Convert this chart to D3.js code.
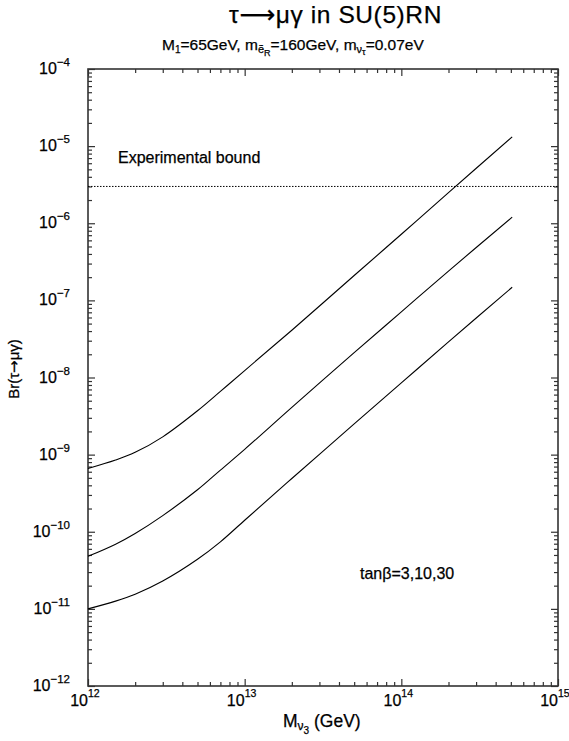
<!DOCTYPE html>
<html>
<head>
<meta charset="utf-8">
<script src="https://cdn.jsdelivr.net/npm/d3@7"></script>
<style>
  body { margin: 0; background: #fff; }
  svg { display: block; font-family: "Liberation Sans", Arial, Helvetica, sans-serif; }
  svg text { fill: #000; stroke: #000; stroke-width: 0.25px; }
</style>
</head>
<body>
<div id="chart"></div>
<script>
// heavy neutrino mass M_nu3 (GeV)
const massGeV = [1e12, 1.5e12, 2e12, 3e12, 5e12, 7e12, 1e13, 2e13, 5e13, 1e14, 2e14, 5.1e14];
// Br(tau -> mu gamma), one array per tan(beta)
const brTanBeta30 = [6.6e-10, 8.5e-10, 1.07e-9, 1.7e-9, 3.7e-9, 6.6e-9, 1.23e-8, 4.1e-8, 2.1e-7, 7.2e-7, 2.5e-6, 1.32e-5];
const brTanBeta10 = [4.8e-11, 6.9e-11, 9.5e-11, 1.62e-10, 3.5e-10, 6.3e-10, 1.17e-9, 4.1e-9, 2.1e-8, 7.1e-8, 2.4e-7, 1.2e-6];
const brTanBeta3 = [1.0e-11, 1.26e-11, 1.55e-11, 2.3e-11, 4.4e-11, 7.4e-11, 1.41e-10, 4.9e-10, 2.5e-9, 8.5e-9, 2.9e-8, 1.48e-7];
const experimentalBound = 3e-6;

const xTickExponents = [12, 13, 14, 15];
const yTickExponents = [-4, -5, -6, -7, -8, -9, -10, -11, -12];

const W = 569, H = 741;
const plot = { left: 88, right: 558, top: 69, bottom: 686 };

const svg = d3.select('#chart').append('svg')
  .attr('width', W)
  .attr('height', H);

const x = d3.scaleLog().domain([1e12, 1e15]).range([plot.left, plot.right]);
const y = d3.scaleLog().domain([1e-12, 1e-4]).range([plot.bottom, plot.top]);

// major and minor tick positions (2..9 in each decade)
const majorX = xTickExponents.map(e => Math.pow(10, e));
const minorX = [];
for (let e = 12; e < 15; e++) for (let k = 2; k <= 9; k++) minorX.push(k * Math.pow(10, e));
const majorY = yTickExponents.map(e => Math.pow(10, e));
const minorY = [];
for (let e = -12; e < -4; e++) for (let k = 2; k <= 9; k++) minorY.push(k * Math.pow(10, e));

const axisColor = '#333';

function drawTicks(axisFn, scale, values, size, transform) {
  const g = svg.append('g')
    .attr('transform', transform)
    .call(axisFn(scale).tickValues(values).tickSize(-size).tickSizeOuter(0).tickFormat(''));
  g.select('.domain').remove();
  g.selectAll('line').attr('stroke', axisColor).attr('stroke-width', 1.2);
}

// ticks on all four sides, pointing inwards
drawTicks(d3.axisBottom, x, majorX, 7, `translate(0,${plot.bottom})`);
drawTicks(d3.axisBottom, x, minorX, 4, `translate(0,${plot.bottom})`);
drawTicks(d3.axisTop, x, majorX, 7, `translate(0,${plot.top})`);
drawTicks(d3.axisTop, x, minorX, 4, `translate(0,${plot.top})`);
drawTicks(d3.axisLeft, y, majorY, 7, `translate(${plot.left},0)`);
drawTicks(d3.axisLeft, y, minorY, 4, `translate(${plot.left},0)`);
drawTicks(d3.axisRight, y, majorY, 7, `translate(${plot.right},0)`);
drawTicks(d3.axisRight, y, minorY, 4, `translate(${plot.right},0)`);

// frame
svg.append('rect')
  .attr('x', plot.left)
  .attr('y', plot.top)
  .attr('width', plot.right - plot.left)
  .attr('height', plot.bottom - plot.top)
  .attr('fill', 'none')
  .attr('stroke', axisColor)
  .attr('stroke-width', 1.6);

// x tick labels: "10" ends on the tick, exponent sticks out to the right
xTickExponents.forEach(e => {
  const px = x(Math.pow(10, e));
  svg.append('text')
    .attr('x', px).attr('y', plot.bottom + 20)
    .attr('text-anchor', 'end')
    .attr('font-size', 16)
    .text('10');
  svg.append('text')
    .attr('x', px).attr('y', plot.bottom + 11)
    .attr('font-size', 10.5)
    .text(e);
});

// y tick labels, right aligned
yTickExponents.forEach(e => {
  const t = svg.append('text')
    .attr('x', 70).attr('y', y(Math.pow(10, e)) + 5)
    .attr('text-anchor', 'end')
    .attr('font-size', 16);
  t.append('tspan').text('10');
  t.append('tspan').attr('font-size', 11.5).attr('dy', -8).text('\u2212' + Math.abs(e));
});

// experimental bound
svg.append('line')
  .attr('x1', plot.left).attr('x2', plot.right)
  .attr('y1', y(experimentalBound)).attr('y2', y(experimentalBound))
  .attr('stroke', '#000')
  .attr('stroke-width', 1)
  .attr('stroke-dasharray', '1.5 1.5');

svg.append('text')
  .attr('x', 118).attr('y', 163)
  .attr('font-size', 16)
  .text('Experimental bound');

// curves
const line = d3.line()
  .x((d, i) => x(massGeV[i]))
  .y(d => y(d))
  .curve(d3.curveCatmullRom.alpha(0.5));

[brTanBeta30, brTanBeta10, brTanBeta3].forEach(series => {
  svg.append('path')
    .datum(series)
    .attr('d', line)
    .attr('fill', 'none')
    .attr('stroke', '#000')
    .attr('stroke-width', 1.1);
});

svg.append('text')
  .attr('x', 360).attr('y', 579)
  .attr('font-size', 16)
  .text('tan\u03B2=3,10,30');

// title and subtitle
const title = svg.append('text')
  .attr('x', 229).attr('y', 23)
  .attr('font-size', 24.5)
  .attr('letter-spacing', 0.6);
title.append('tspan').text('\u03C4');
title.append('tspan').attr('font-family', 'DejaVu Sans').attr('font-size', 25).text('\u27F6');
title.append('tspan').text('\u03BC\u03B3 in SU(5)RN');

const sub = svg.append('text')
  .attr('x', 162).attr('y', 50)
  .attr('font-size', 15.5);
sub.append('tspan').text('M');
sub.append('tspan').attr('font-size', 10).attr('dy', 3).text('1');
sub.append('tspan').attr('dy', -3).text('=65GeV, m');
sub.append('tspan').attr('font-size', 11).attr('dy', 3).text('\u1EBD');
sub.append('tspan').attr('font-size', 9).attr('dy', 3).text('R');
sub.append('tspan').attr('dy', -6).text('=160GeV, m');
sub.append('tspan').attr('font-size', 11).attr('dy', 3).text('\u03BD');
sub.append('tspan').attr('font-size', 9).attr('dy', 2).text('\u03C4');
sub.append('tspan').attr('dy', -5).text('=0.07eV');

// axis titles
const xt = svg.append('text')
  .attr('x', 283).attr('y', 727)
  .attr('font-size', 17.5);
xt.append('tspan').text('M');
xt.append('tspan').attr('font-size', 12).attr('dy', 3).text('\u03BD');
xt.append('tspan').attr('font-size', 10).attr('dy', 4).text('3');
xt.append('tspan').attr('dy', -7).text(' (GeV)');

const yt = svg.append('text')
  .attr('transform', 'translate(19,369) rotate(-90)')
  .attr('text-anchor', 'middle')
  .attr('font-size', 15);
yt.append('tspan').text('Br(\u03C4');
yt.append('tspan').attr('font-family', 'DejaVu Sans').text('\u2192');
yt.append('tspan').text('\u03BC\u03B3)');
</script>
</body>
</html>
